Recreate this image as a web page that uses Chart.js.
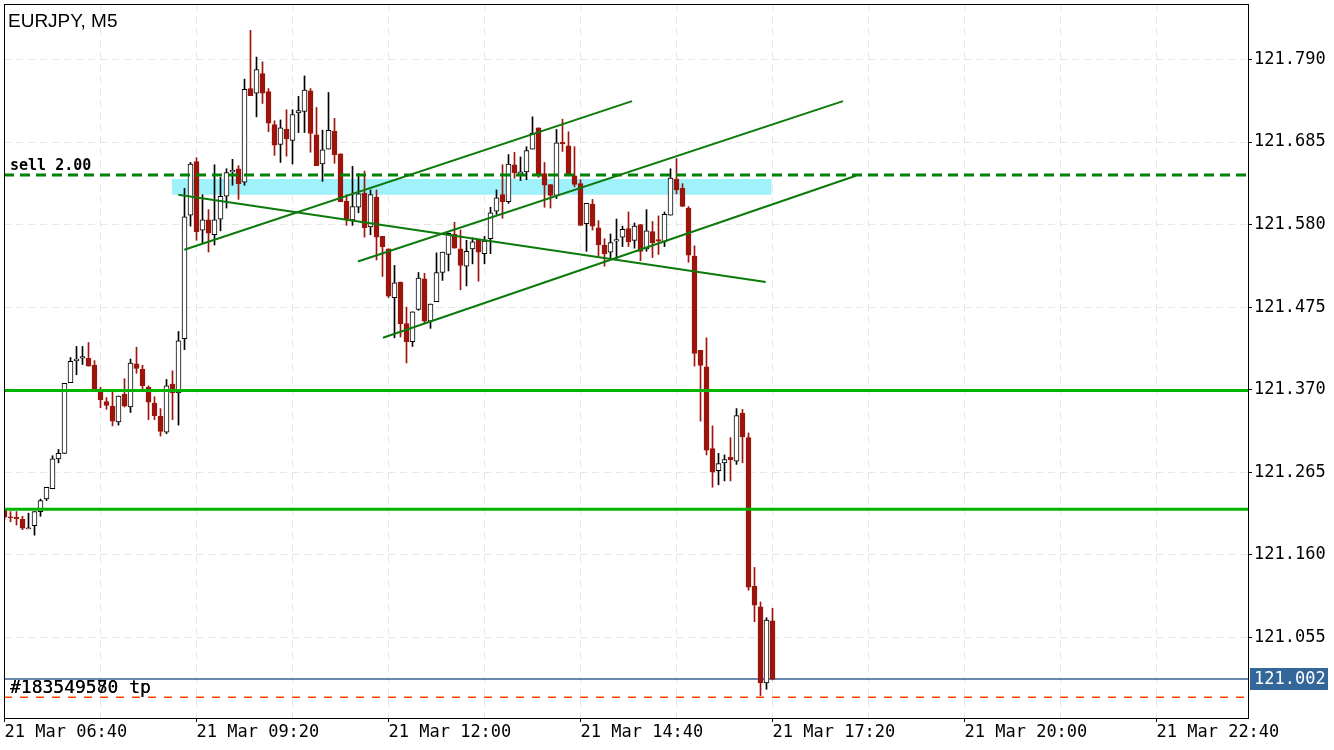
<!DOCTYPE html>
<html>
<head>
<meta charset="utf-8">
<script src="https://cdn.jsdelivr.net/npm/chart.js@4.4.1/dist/chart.umd.min.js"></script>
<style>
  html, body { margin: 0; padding: 0; background: #fff; }
  canvas { display: block; }
</style>
</head>
<body>
<canvas id="chart" width="1334" height="750"></canvas>
<script>
// EURJPY M5 candles, 06:40 -> 17:20 (one entry per bar)
const opens = [
  121.217, 121.208, 121.208, 121.205, 121.193, 121.197, 121.215, 121.231, 121.244, 121.282,
  121.289, 121.379, 121.407, 121.410, 121.410, 121.401, 121.369, 121.355, 121.349, 121.329,
  121.364, 121.348, 121.403, 121.396, 121.373, 121.353, 121.336, 121.316, 121.377, 121.366,
  121.435, 121.592, 121.660, 121.573, 121.586, 121.567, 121.587, 121.616, 121.647, 121.651,
  121.634, 121.753, 121.747, 121.772, 121.749, 121.707, 121.682, 121.701, 121.687, 121.722,
  121.724, 121.750, 121.694, 121.657, 121.676, 121.699, 121.670, 121.610, 121.586, 121.602,
  121.620, 121.577, 121.615, 121.565, 121.549, 121.487, 121.507, 121.454, 121.431, 121.472,
  121.511, 121.457, 121.482, 121.519, 121.542, 121.568, 121.549, 121.527, 121.549, 121.560,
  121.543, 121.562, 121.597, 121.618, 121.609, 121.656, 121.644, 121.647, 121.676, 121.703,
  121.645, 121.631, 121.617, 121.685, 121.680, 121.642, 121.632, 121.581, 121.606, 121.576,
  121.554, 121.545, 121.559, 121.564, 121.575, 121.560, 121.580, 121.549, 121.571, 121.561,
  121.558, 121.592, 121.638, 121.626, 121.601, 121.540, 121.420, 121.399, 121.295, 121.267,
  121.277, 121.284, 121.279, 121.340, 121.309, 121.120, 121.094, 120.997, 121.076
];
const highs = [
  121.219, 121.215, 121.215, 121.209, 121.213, 121.215, 121.231, 121.246, 121.286, 121.294,
  121.378, 121.411, 121.425, 121.425, 121.430, 121.407, 121.373, 121.360, 121.368, 121.362,
  121.384, 121.409, 121.424, 121.401, 121.375, 121.361, 121.346, 121.383, 121.394, 121.444,
  121.626, 121.659, 121.665, 121.618, 121.599, 121.656, 121.640, 121.651, 121.663, 121.655,
  121.765, 121.827, 121.793, 121.787, 121.753, 121.712, 121.713, 121.726, 121.726, 121.743,
  121.769, 121.753, 121.729, 121.700, 121.748, 121.715, 121.670, 121.618, 121.654, 121.645,
  121.648, 121.624, 121.624, 121.565, 121.549, 121.528, 121.507, 121.475, 121.469, 121.519,
  121.518, 121.479, 121.544, 121.545, 121.569, 121.583, 121.573, 121.560, 121.563, 121.560,
  121.565, 121.602, 121.624, 121.656, 121.669, 121.672, 121.666, 121.679, 121.717, 121.703,
  121.659, 121.631, 121.701, 121.714, 121.698, 121.679, 121.637, 121.607, 121.612, 121.585,
  121.562, 121.568, 121.587, 121.578, 121.596, 121.582, 121.580, 121.599, 121.584, 121.591,
  121.596, 121.651, 121.664, 121.632, 121.603, 121.553, 121.420, 121.436, 121.324, 121.289,
  121.287, 121.309, 121.346, 121.345, 121.315, 121.144, 121.100, 121.080, 121.092
];
const lows = [
  121.205, 121.202, 121.198, 121.192, 121.193, 121.185, 121.209, 121.229, 121.244, 121.277,
  121.289, 121.379, 121.389, 121.402, 121.400, 121.369, 121.347, 121.345, 121.324, 121.325,
  121.348, 121.341, 121.391, 121.370, 121.332, 121.332, 121.311, 121.314, 121.332, 121.325,
  121.421, 121.578, 121.560, 121.557, 121.545, 121.554, 121.572, 121.601, 121.630, 121.612,
  121.630, 121.744, 121.717, 121.734, 121.698, 121.668, 121.659, 121.667, 121.657, 121.697,
  121.697, 121.672, 121.655, 121.635, 121.676, 121.658, 121.609, 121.579, 121.579, 121.595,
  121.564, 121.567, 121.535, 121.514, 121.487, 121.436, 121.437, 121.404, 121.425, 121.471,
  121.455, 121.448, 121.482, 121.509, 121.521, 121.550, 121.497, 121.502, 121.530, 121.508,
  121.530, 121.543, 121.593, 121.588, 121.607, 121.639, 121.636, 121.637, 121.676, 121.640,
  121.602, 121.601, 121.613, 121.673, 121.642, 121.628, 121.579, 121.546, 121.573, 121.540,
  121.527, 121.538, 121.535, 121.552, 121.552, 121.550, 121.534, 121.546, 121.538, 121.542,
  121.552, 121.592, 121.619, 121.603, 121.532, 121.400, 121.330, 121.287, 121.246, 121.249,
  121.254, 121.254, 121.275, 121.277, 121.115, 121.075, 120.981, 120.989, 121.001
];
const closes = [
  121.208, 121.207, 121.206, 121.194, 121.194, 121.215, 121.229, 121.246, 121.282, 121.289,
  121.378, 121.406, 121.409, 121.412, 121.400, 121.369, 121.357, 121.350, 121.330, 121.362,
  121.349, 121.404, 121.397, 121.375, 121.354, 121.337, 121.317, 121.375, 121.366, 121.432,
  121.590, 121.657, 121.571, 121.586, 121.569, 121.586, 121.616, 121.646, 121.649, 121.632,
  121.752, 121.744, 121.777, 121.747, 121.709, 121.681, 121.703, 121.689, 121.720, 121.725,
  121.751, 121.696, 121.655, 121.675, 121.700, 121.669, 121.609, 121.586, 121.603, 121.619,
  121.576, 121.618, 121.564, 121.552, 121.489, 121.506, 121.454, 121.431, 121.469, 121.512,
  121.457, 121.479, 121.519, 121.545, 121.569, 121.550, 121.528, 121.546, 121.558, 121.545,
  121.559, 121.595, 121.614, 121.609, 121.657, 121.646, 121.647, 121.674, 121.696, 121.643,
  121.630, 121.617, 121.684, 121.683, 121.643, 121.631, 121.579, 121.607, 121.578, 121.554,
  121.543, 121.557, 121.561, 121.574, 121.558, 121.578, 121.546, 121.572, 121.557, 121.559,
  121.593, 121.639, 121.624, 121.603, 121.541, 121.416, 121.401, 121.293, 121.265, 121.276,
  121.281, 121.281, 121.337, 121.310, 121.119, 121.096, 120.997, 121.077, 121.002
];

// time axis: bar index of each label
const timeTickIdx = [0, 32, 64, 96, 128, 160, 192];
const timeLabels = ["21 Mar 06:40", "21 Mar 09:20", "21 Mar 12:00", "21 Mar 14:40",
                    "21 Mar 17:20", "21 Mar 20:00", "21 Mar 22:40"];
const priceTicks = [121.055, 121.160, 121.265, 121.370, 121.475, 121.580, 121.685, 121.790];

// levels and drawn objects (bar index, price)
const levelLines = [121.369, 121.218];
const sellLevel = 121.643;
const tpLevel = 120.979;
const bidPrice = 121.002;
const zoneX = [27.87, 127.87];
const zoneY = [121.618, 121.638];
const trendA = [[29.97, 121.548], [104.6, 121.737]];
const trendB = [[58.9, 121.533], [139.75, 121.737]];
const trendC = [[63.08, 121.436], [141.9, 121.642]];
const trendD = [[28.97, 121.618], [126.87, 121.507]];

const X_MIN = -1 / 12, X_MAX = 207.25;
const Y_MIN = 120.9525, Y_MAX = 121.8605;
const RED = "#9c140c";

const up = opens.map((o, i) => closes[i] >= o);
const wicks = opens.map((o, i) => ({ x: i, y: [lows[i], highs[i]] }));
const bodies = opens.map((o, i) => {
  let a = o, b = closes[i];
  if (Math.abs(a - b) < 0.0014) { // keep dojis visible as a thin bar
    const m = (a + b) / 2;
    a = m - 0.0007; b = m + 0.0007;
  }
  return { x: i, y: [a, b] };
});

const pts = (seg) => seg.map(p => ({ x: p[0], y: p[1] }));
const hline = (v) => [{ x: X_MIN, y: v }, { x: X_MAX, y: v }];

function lineSet(data, color, width, dash, order) {
  return {
    type: "line", data: data, borderColor: color, borderWidth: width,
    borderDash: dash || [], pointRadius: 0, pointHoverRadius: 0,
    fill: false, order: order, tension: 0
  };
}

const MONO = "DejaVu Sans Mono";

const overlay = {
  id: "overlay",
  afterDraw(chart) {
    const { ctx, chartArea: a, scales } = chart;
    ctx.save();
    ctx.strokeStyle = "#000";
    ctx.lineWidth = 1;
    ctx.strokeRect(a.left + 0.5, a.top + 0.5, a.right - a.left, a.bottom - a.top);

    ctx.fillStyle = "#000";
    ctx.textBaseline = "alphabetic";
    ctx.font = '19px "Liberation Sans"';
    ctx.fillText("EURJPY, M5", 8, 27);

    ctx.font = 'bold 15px "' + MONO + '"';
    ctx.fillText("sell 2.00", 10, 170);

    ctx.font = '18px "' + MONO + '"';
    ctx.fillText("#183549570 tp", 10, 693);
    ctx.fillText("#183549580 tp", 10, 693);

    const yb = Math.round(scales.y.getPixelForValue(bidPrice));
    ctx.fillStyle = "#336699";
    ctx.fillRect(1250, yb - 11, 78, 22);
    ctx.fillStyle = "#fff";
    ctx.font = '17px "' + MONO + '"';
    ctx.textBaseline = "middle";
    ctx.fillText(bidPrice.toFixed(3), 1254, yb + 1);
    ctx.restore();
  }
};

new Chart(document.getElementById("chart"), {
  type: "bar",
  data: {
    datasets: [
      lineSet(pts(trendA), "#0b7a0b", 2, null, 0),
      lineSet(pts(trendB), "#0b7a0b", 2, null, 0),
      lineSet(pts(trendC), "#0b7a0b", 2, null, 0),
      lineSet(pts(trendD), "#0b7a0b", 2, null, 0),
      lineSet(hline(levelLines[0]), "#00b400", 3, null, 0),
      lineSet(hline(levelLines[1]), "#00b400", 3, null, 0),
      lineSet(hline(sellLevel), "#008000", 3, [10, 6], 0),
      lineSet(hline(tpLevel), "#ff4500", 1.5, [8, 8], 0),
      {
        type: "bar", data: bodies, grouped: false, barThickness: 5, order: 1,
        backgroundColor: up.map(u => u ? "#ffffff" : RED),
        borderColor: up.map(u => u ? "#000000" : RED),
        borderWidth: 1, borderSkipped: false
      },
      {
        type: "bar", data: wicks, grouped: false, barThickness: 1, order: 2,
        backgroundColor: up.map(u => u ? "#000000" : RED), borderWidth: 0
      },
      lineSet(hline(bidPrice), "#34628f", 1.5, null, 3),
      {
        type: "line", order: 4, pointRadius: 0, borderWidth: 0,
        data: [{ x: zoneX[0], y: zoneY[1] }, { x: zoneX[1], y: zoneY[1] }],
        fill: "+1", backgroundColor: "#a0f2fa"
      },
      {
        type: "line", order: 4, pointRadius: 0, borderWidth: 0,
        data: [{ x: zoneX[0], y: zoneY[0] }, { x: zoneX[1], y: zoneY[0] }],
        fill: false
      }
    ]
  },
  options: {
    responsive: false,
    animation: false,
    events: [],
    devicePixelRatio: 1,
    layout: { padding: { left: 4, top: 4, right: 0, bottom: 0 } },
    plugins: { legend: { display: false }, tooltip: { enabled: false } },
    scales: {
      x: {
        type: "linear", min: X_MIN, max: X_MAX, offset: false,
        afterFit: (s) => { s.height = 32; s.paddingLeft = 0; s.paddingRight = 0; },
        afterBuildTicks: (s) => {
          const t = [];
          for (let v = 0; v <= 192; v += 16) t.push({ value: v });
          s.ticks = t;
        },
        grid: {
          offset: false, color: "#e6e6e6", lineWidth: 1, tickLength: 4,
          tickColor: (c) => (c.tick && timeTickIdx.includes(c.tick.value)) ? "#000" : "rgba(0,0,0,0)",
          tickBorderDash: []
        },
        border: { display: false, dash: [7, 5] },
        ticks: {
          align: "start", maxRotation: 0, autoSkip: false, padding: 0, color: "#000",
          font: { family: MONO, size: 17 },
          callback: (v) => {
            const k = timeTickIdx.indexOf(v);
            return k >= 0 ? timeLabels[k] : "";
          }
        }
      },
      y: {
        position: "right", min: Y_MIN, max: Y_MAX,
        afterFit: (s) => { s.width = 86; s.paddingTop = 0; s.paddingBottom = 0; },
        afterBuildTicks: (s) => { s.ticks = priceTicks.map(v => ({ value: v })); },
        grid: { color: "#e6e6e6", lineWidth: 1, tickLength: 4, tickColor: "#000", tickBorderDash: [] },
        border: { display: false, dash: [7, 5] },
        ticks: {
          padding: 2, color: "#000",
          font: { family: MONO, size: 17 },
          callback: (v) => v.toFixed(3)
        }
      }
    }
  },
  plugins: [overlay]
});
</script>
</body>
</html>
